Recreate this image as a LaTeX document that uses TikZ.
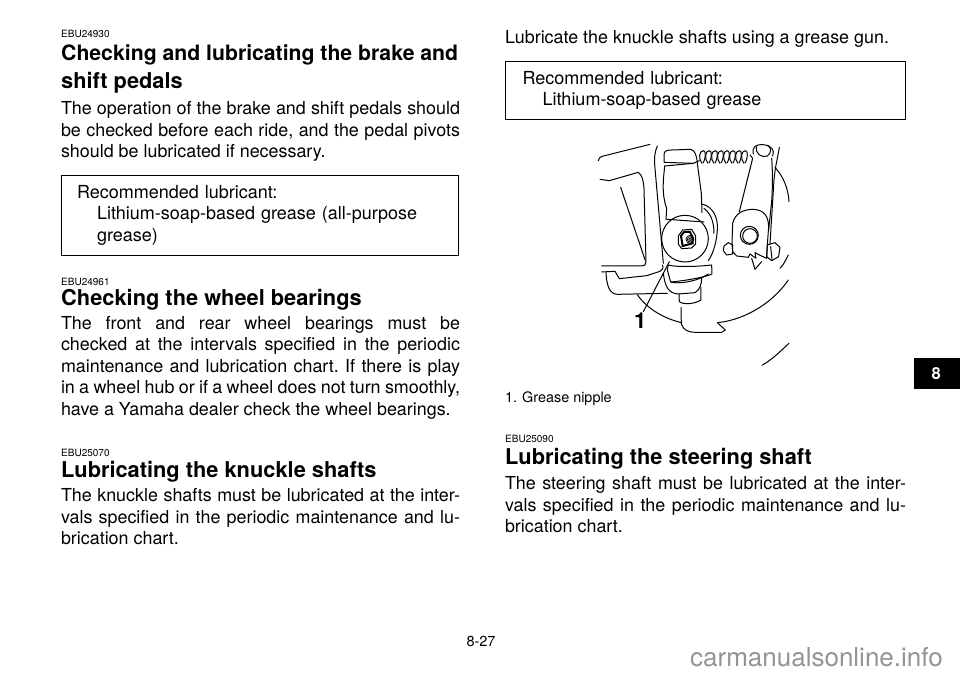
\documentclass[tikz,border=0pt]{standalone}
\usepackage{fontspec}
\setmainfont{TeX Gyre Heros}
\frenchspacing
\tikzset{
  pagetext/.style={anchor=north west, inner sep=0pt, outer sep=0pt, text width=#1, align=justify},
  bodytext/.style={pagetext=399pt, font=\fontsize{17.9}{21.6}\selectfont},
  headtext/.style={anchor=base west, inner sep=0pt, font=\fontsize{21.8}{28}\selectfont\bfseries},
  codetext/.style={anchor=base west, inner sep=0pt, font=\fontsize{10}{11}\selectfont},
  lubebox/.style={draw, line width=1.1pt, anchor=north west, inner xsep=15pt, inner ysep=0pt, text width=366pt, align=left, font=\fontsize{18}{21.5}\selectfont},
  sketch/.style={line width=1pt, line cap=round, line join=round},
  thin sketch/.style={line width=0.7pt, line cap=round, line join=round}
}
\begin{document}
\begin{tikzpicture}[x=1pt, y=-1pt]
\useasboundingbox (0,0) rectangle (960,675);

% left column
\node[codetext] (codea) at (61,37) {EBU24930};
\node[headtext, font=\fontsize{21.2}{28}\selectfont\bfseries] (heada) at (61,60) {Checking and lubricating the brake and};
\node[headtext] (headb) at (61,88) {shift pedals};
\node[bodytext] (parta) at (61,101.5) {The operation of the brake and shift pedals should\linebreak
be checked before each ride, and the pedal pivots\linebreak
should be lubricated if necessary.};
\node[lubebox, minimum width=397pt, minimum height=80pt] (boxa) at (61,174.5) {Recommended lubricant:\\
\hspace*{20pt}Lithium-soap-based grease (all-purpose\\
\hspace*{20pt}grease)};

\node[codetext] (codeb) at (61,285) {EBU24961};
\node[headtext] (headc) at (61,305) {Checking the wheel bearings};
\node[bodytext] (partb) at (61,316) {The front and rear wheel bearings must be\linebreak
checked at the intervals specified in the periodic\linebreak
maintenance and lubrication chart. If there is play\linebreak
in a wheel hub or if a wheel does not turn smoothly,\linebreak
have a Yamaha dealer check the wheel bearings.};

\node[codetext] (codec) at (61,456) {EBU25070};
\node[headtext] (headd) at (61,477) {Lubricating the knuckle shafts};
\node[bodytext] (partc) at (61,488.5) {The knuckle shafts must be lubricated at the inter-\linebreak
vals specified in the periodic maintenance and lu-\linebreak
brication chart.};

% right column
\node[bodytext, text width=401pt] (partd) at (505,30.5) {Lubricate the knuckle shafts using a grease gun.};
\node[lubebox, minimum width=400pt, minimum height=58pt] (boxb) at (505,61) {Recommended lubricant:\\
\hspace*{20pt}Lithium-soap-based grease};

% knuckle shaft sketch, traced in the 3x crop
\begin{scope}[shift={(580,130)}, x=0.3333pt, y=-0.3333pt]
% housing
\draw[sketch] (55,92) .. controls (58,82) and (62,80) .. (70,78) -- (210,43);
\draw[sketch] (60,148) -- (88,152) -- (175,127) .. controls (186,135) and (190,150) .. (192,175) -- (198,395) .. controls (198,404) and (194,408) .. (185,408) -- (65,408);
\draw[sketch] (122,172) -- (196,392);
\draw[sketch] (65,426) -- (105,424) -- (118,446) -- (200,437) -- (240,424) .. controls (248,420) and (250,415) .. (248,405);
\draw[sketch] (78,428) .. controls (80,470) and (90,492) .. (112,493) -- (262,490);
\draw[sketch] (232,48) .. controls (224,65) and (222,85) .. (225,115) -- (250,400);
% lever with grease nipple
\draw[sketch] (340,100) -- (252,97) -- (252,72) .. controls (254,62) and (262,60) .. (275,60) -- (332,58) .. controls (345,62) and (350,75) .. (352,100) -- (364,190) -- (366,248);
\draw[sketch] (254,108) -- (340,100);
\draw[sketch] (254,108) .. controls (250,150) and (244,190) .. (260,235) -- (258,270);
\draw[sketch] (366,222) .. controls (400,230) and (415,265) .. (412,300) .. controls (410,335) and (400,370) .. (385,392);
\draw[sketch] (372,235) .. controls (392,250) and (402,275) .. (402,310);
\draw[sketch] (315,326) circle (70);
\draw[sketch] (262,268) -- (372,276);
\draw[sketch] (295,318) -- (308,300) -- (335,298) -- (347,318) -- (347,342) -- (335,354) -- (305,356) -- (295,342) -- cycle;
\draw[line width=2pt] (303,318) -- (312,306) -- (330,306) -- (338,322) -- (338,340) -- (308,348) -- cycle;
\foreach \rr in {4,8,12}
  \draw[thin sketch] (330,328) circle (\rr);
% collar below the circle
\draw[sketch] (265,405) .. controls (290,412) and (350,410) .. (395,405) -- (396,432) .. controls (380,440) and (320,452) .. (272,456) -- (262,420) -- (265,405);
\draw[sketch] (272,456) .. controls (290,462) and (345,458) .. (385,432);
\draw[sketch] (250,430) .. controls (255,470) and (265,490) .. (295,492) -- (345,488) .. controls (360,480) and (365,460) .. (365,445);
\draw[sketch] (297,492) -- (298,515) .. controls (310,525) and (345,522) .. (363,510) -- (363,472);
\draw[sketch] (303,532) -- (304,582) .. controls (310,600) and (325,607) .. (345,607) -- (425,607) -- (436,600) -- (412,578) .. controls (480,572) and (570,530) .. (625,450);
% backing disc
\draw[sketch] (172,494) .. controls (200,535) and (250,565) .. (304,578);
\draw[sketch] (585,112) .. controls (610,140) and (625,175) .. (627,215);
\draw[sketch] (627,640) .. controls (600,665) and (575,690) .. (546,706);
% spring
\draw[sketch] (340,100) -- (358,92);
\foreach \cx in {366,384,402,420,438,456,474,492}
  \draw[thin sketch, line width=1pt] (\cx,100) .. controls (\cx-12,86) and (\cx-8,62) .. (\cx+4,62) .. controls (\cx+14,62) and (\cx+10,88) .. (\cx+4,98);
% brake arm
\draw[sketch] (520,72) .. controls (515,50) and (530,42) .. (548,44) .. controls (575,46) and (585,60) .. (578,78);
\draw[sketch] (530,50) .. controls (524,70) and (545,85) .. (562,78) .. controls (575,70) and (575,50) .. (562,46);
\draw[sketch] (510,75) -- (518,85) -- (478,245);
\draw[sketch] (598,52) .. controls (594,80) and (586,105) .. (582,150) -- (570,342);
\draw[sketch] (575,85) .. controls (578,120) and (578,170) .. (575,215) -- (566,300);
\draw[sketch] (458,280) .. controls (465,250) and (490,238) .. (520,238) .. controls (550,240) and (565,255) .. (566,290) -- (562,345) -- (560,385) -- (540,376) -- (525,368) -- (528,385) -- (510,372) -- (505,382) -- (470,378) -- (458,365) -- (456,340) -- cycle;
\draw[sketch] (508,316) circle (27);
\draw[sketch] (510,318) circle (22);
\draw[sketch] (515,385) -- (525,418) -- (545,395);
\draw[sketch] (432,348) -- (445,338) -- (458,345) -- (458,372) -- (440,375) -- (430,362) -- cycle;
\draw[sketch] (562,345) -- (585,338) -- (600,352) -- (596,380) -- (575,392) -- (560,380) -- cycle;
\draw[sketch] (572,350) -- (576,388);
\draw[sketch] (625,375) .. controls (615,395) and (610,405) .. (600,415);
\coordinate (nipple) at (268,395);
\node[inner sep=0pt, font=\fontsize{22}{22}\selectfont\bfseries] (partlabel) at (181,572) {1};
\draw[sketch] (190,545) -- (nipple);
\end{scope}

\node[anchor=base west, inner sep=0pt, font=\fontsize{14.4}{15}\selectfont] (caption) at (505,402) {1.\hspace{5pt}Grease nipple};
\node[codetext] (coded) at (505,442) {EBU25090};
\node[headtext] (heade) at (505,464.5) {Lubricating the steering shaft};
\node[bodytext, text width=401pt] (parte) at (505,476.5) {The steering shaft must be lubricated at the inter-\linebreak
vals specified in the periodic maintenance and lu-\linebreak
brication chart.};

% page number, tab and site name
\node[inner sep=0pt, font=\fontsize{14.5}{15}\selectfont] (pageno) at (481,641) {8-27};
\node[fill=black, text=white, anchor=north west, inner sep=0pt, minimum width=46pt, minimum height=31pt, font=\fontsize{16.5}{18}\selectfont\bfseries] (tab) at (914,358) {\hspace{-2pt}8};
\node[anchor=base east, inner sep=0pt, text=black!42, font=\fontsize{26}{28}\selectfont] (site) at (943,666) {carmanualsonline.info};
\end{tikzpicture}
\end{document}
